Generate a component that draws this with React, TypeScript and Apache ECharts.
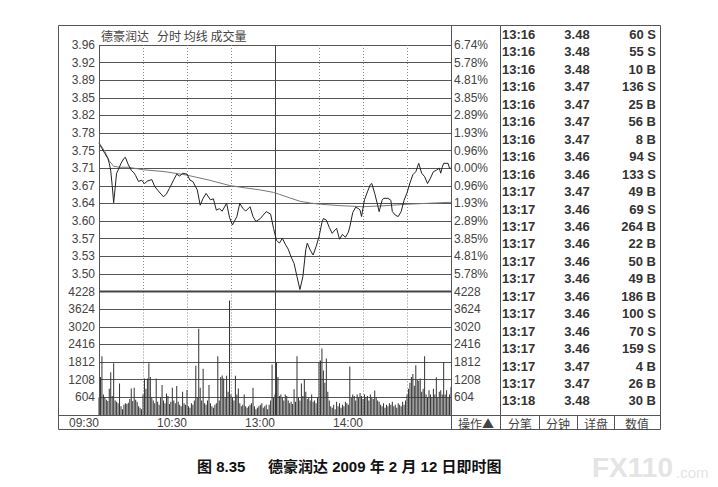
import React, { useEffect, useRef } from 'react';
import * as echarts from 'echarts';

// ---- axis tick labels ----
const PRICE_MIN = 3.46;
const PRICE_MAX = 3.96;
const PRICE_STEP = 0.25 / 7;
const priceTickLabels = ['', '3.50', '3.53', '3.57', '3.60', '3.64', '3.67', '3.71', '3.75', '3.78', '3.82', '3.85', '3.89', '3.92', '3.96'];
const pctTickLabels = ['', '5.78%', '4.81%', '3.85%', '2.89%', '1.93%', '0.96%', '0.00%', '0.96%', '1.93%', '2.89%', '3.85%', '4.81%', '5.78%', '6.74%'];
const VOL_MAX = 4228;
const VOL_STEP = 604;
const volTickLabels = ['', '604', '1208', '1812', '2416', '3020', '3624', '4228'];
const timeTickMinutes = [0, 60, 120, 180];
const timeTickLabels = ['09:30', '10:30', '13:00', '14:00'];

// ---- price line (minute index, price) ----
const priceMinutes = [0, 1, 2, 3, 4, 5, 6, 7, 8, 9, 10, 11, 12, 13, 15, 17, 18, 20, 22, 24, 25, 27, 29, 31, 33, 36, 38, 41, 44, 46, 48, 51, 53, 55, 57, 60, 62, 64, 67, 69, 71, 73, 76, 78, 80, 82, 84, 87, 89, 91, 94, 96, 98, 100, 103, 105, 107, 110, 112, 114, 117, 119, 121, 123, 125, 127, 129, 131, 133, 135, 137, 139, 141, 142, 144, 146, 148, 150, 152, 153, 155, 157, 159, 161, 162, 164, 166, 168, 170, 171, 173, 175, 177, 178, 179, 181, 183, 185, 186, 188, 190, 191, 193, 194, 197, 199, 200, 202, 204, 206, 208, 210, 212, 214, 216, 218, 220, 222, 224, 226, 228, 230, 232, 233, 234, 235, 238, 239, 240];
const priceValues = [3.76, 3.755, 3.75, 3.745, 3.74, 3.735, 3.73, 3.72, 3.705, 3.675, 3.64, 3.67, 3.70, 3.706, 3.72, 3.73, 3.732, 3.717, 3.706, 3.70, 3.695, 3.683, 3.686, 3.679, 3.684, 3.687, 3.673, 3.662, 3.652, 3.658, 3.669, 3.687, 3.698, 3.694, 3.70, 3.698, 3.686, 3.683, 3.666, 3.635, 3.649, 3.659, 3.646, 3.648, 3.625, 3.628, 3.623, 3.639, 3.61, 3.595, 3.612, 3.639, 3.629, 3.623, 3.632, 3.612, 3.602, 3.608, 3.615, 3.622, 3.617, 3.588, 3.564, 3.558, 3.568, 3.556, 3.546, 3.53, 3.517, 3.49, 3.464, 3.49, 3.545, 3.558, 3.544, 3.534, 3.551, 3.571, 3.60, 3.608, 3.605, 3.59, 3.578, 3.585, 3.588, 3.566, 3.576, 3.57, 3.58, 3.591, 3.62, 3.631, 3.628, 3.625, 3.612, 3.646, 3.662, 3.677, 3.679, 3.659, 3.635, 3.622, 3.645, 3.649, 3.649, 3.645, 3.622, 3.615, 3.612, 3.622, 3.645, 3.66, 3.68, 3.697, 3.703, 3.72, 3.70, 3.693, 3.679, 3.69, 3.703, 3.706, 3.71, 3.70, 3.712, 3.72, 3.72, 3.71, 3.71];

// ---- average line ----
const avgMinutes = [0, 4, 7, 10, 14, 20, 30, 45, 60, 75, 89, 100, 110, 119, 123, 130, 137, 145, 151, 165, 180, 195, 210, 225, 240];
const avgValues = [3.762, 3.744, 3.725, 3.714, 3.712, 3.712, 3.707, 3.703, 3.696, 3.686, 3.675, 3.670, 3.666, 3.661, 3.657, 3.650, 3.643, 3.639, 3.637, 3.634, 3.632, 3.634, 3.637, 3.639, 3.641];

// ---- volume per minute (241 values) ----
const volumeValues = [
  600, 1300, 2010, 700, 620, 520, 480, 900, 1460, 650,
  1770, 500, 450, 400, 1080, 300, 200, 350, 400, 380,
  420, 550, 910, 480, 935, 520, 450, 300, 250, 200,
  700, 1250, 900, 1250, 1770, 1300, 600, 500, 400, 1250,
  450, 350, 600, 1030, 500, 400, 740, 650, 380, 450,
  935, 500, 400, 990, 450, 350, 300, 800, 400, 350,
  855, 300, 250, 400, 350, 500, 1690, 600, 2950, 935,
  500, 1580, 400, 350, 500, 1030, 400, 300, 250, 350,
  400, 2010, 500, 1300, 1350, 1250, 600, 1345, 800, 3920,
  700, 600, 500, 1345, 700, 910, 400, 300, 350, 700,
  300, 250, 300, 350, 400, 935, 300, 200, 250, 300,
  350, 400, 250, 300, 350, 200, 350, 500, 1730, 600,
  700, 1810, 1300, 650, 700, 600, 500, 700, 650, 500,
  400, 450, 380, 880, 450, 2010, 600, 500, 1076, 650,
  1230, 800, 550, 600, 500, 700, 450, 500, 400, 600,
  1810, 1870, 2280, 1520, 1100, 1930, 800, 500, 300, 250,
  350, 200, 450, 300, 400, 250, 350, 300, 450, 400,
  350, 1660, 600, 700, 650, 500, 700, 600, 750, 650,
  550, 700, 600, 650, 500, 700, 600, 550, 840, 600,
  500, 450, 350, 300, 400, 250, 350, 300, 400, 350,
  450, 300, 350, 250, 400, 350, 300, 450, 350, 500,
  700, 900, 1100, 1300, 1400, 1000, 1700, 1200, 1170, 1250,
  800, 900, 2010, 700, 600, 850, 700, 600, 900, 700,
  1290, 600, 800, 850, 700, 1810, 700, 850, 600, 700,
  960,
];

// ---- tick-by-tick trades panel ----
const tradeTimes = ['13:16', '13:16', '13:16', '13:16', '13:16', '13:16', '13:16', '13:16', '13:16', '13:17', '13:17', '13:17', '13:17', '13:17', '13:17', '13:17', '13:17', '13:17', '13:17', '13:17', '13:17', '13:18'];
const tradePrices = ['3.48', '3.48', '3.48', '3.47', '3.47', '3.47', '3.47', '3.46', '3.46', '3.47', '3.46', '3.46', '3.46', '3.46', '3.46', '3.46', '3.46', '3.46', '3.46', '3.47', '3.47', '3.48'];
const tradeVolumes = [60, 55, 10, 136, 25, 56, 8, 94, 133, 49, 69, 264, 22, 50, 49, 186, 100, 70, 159, 4, 26, 30];
const tradeSides = ['S', 'S', 'B', 'S', 'B', 'B', 'B', 'S', 'S', 'B', 'S', 'B', 'B', 'B', 'B', 'B', 'S', 'S', 'S', 'B', 'B', 'B'];
const buttonLabels = ['分笔', '分钟', '详盘', '数值'];

const FONT = '"Liberation Sans", Arial, "Noto Sans CJK SC", sans-serif';
const CJK = '"Noto Sans CJK SC", "Liberation Sans", sans-serif';

export default function App() {
  const ref = useRef<HTMLDivElement>(null);
  useEffect(() => {
    document.body.style.margin = '0';
    if (!ref.current) return;
    const chart = echarts.init(ref.current, null, { renderer: 'svg' });

    const priceIdx = (v: number) => Math.round((v - PRICE_MIN) / PRICE_STEP);
    const frame = '#555';
    const lineEl = (x1: number, y1: number, x2: number, y2: number, w = 1, color = frame) => ({
      type: 'line', silent: true, z: 100,
      shape: { x1, y1, x2, y2 },
      style: { stroke: color, lineWidth: w },
    });

    const graphics: any[] = [
      { type: 'rect', silent: true, z: 100, shape: { x: 58.5, y: 25.5, width: 602, height: 404 }, style: { fill: 'none', stroke: frame, lineWidth: 1 } },
      lineEl(99.5, 45, 99.5, 415),
      lineEl(451.5, 25, 451.5, 430),
      lineEl(500.5, 25, 500.5, 430),
      lineEl(58, 415.5, 661, 415.5),
      lineEl(99, 291.5, 451, 291.5, 2, '#444'),
      lineEl(539.5, 415, 539.5, 430),
      lineEl(577.5, 415, 577.5, 430),
      lineEl(614.5, 415, 614.5, 430),
      { type: 'text', silent: true, z: 101, x: 101, y: 35, style: { text: '德豪润达   分时 均线 成交量', font: `12px ${CJK}`, fill: '#444', verticalAlign: 'middle' } },
      { type: 'text', silent: true, z: 101, x: 476, y: 423, style: { text: '操作▲', font: `12px ${CJK}`, fill: '#444', align: 'center', verticalAlign: 'middle' } },
      { type: 'text', silent: true, z: 101, x: 197, y: 466, style: { text: '图 8.35', font: `bold 15px ${FONT}`, fill: '#111', verticalAlign: 'middle' } },
      { type: 'text', silent: true, z: 101, x: 268, y: 466, style: { text: '德豪润达 2009 年 2 月 12 日即时图', font: `bold 15px ${FONT}`, fill: '#111', verticalAlign: 'middle' } },
      { type: 'text', silent: true, z: 101, x: 592, y: 467, style: { text: 'FX110', font: `bold 28px ${FONT}`, fill: '#e4e4e4', verticalAlign: 'middle' } },
      { type: 'text', silent: true, z: 101, x: 676, y: 472, style: { text: '.com', font: `15px ${FONT}`, fill: '#e4e4e4', verticalAlign: 'middle' } },
    ];
    const btnCenters = [520, 558, 596, 637];
    buttonLabels.forEach((b, k) => {
      graphics.push({ type: 'text', silent: true, z: 101, x: btnCenters[k], y: 423, style: { text: b, font: `12px ${CJK}`, fill: '#444', align: 'center', verticalAlign: 'middle' } });
    });
    tradeTimes.forEach((t, k) => {
      const y = 34.5 + k * 17.45;
      const font = `bold 13px ${FONT}`;
      graphics.push({ type: 'text', silent: true, z: 101, x: 502, y, style: { text: t, font, fill: '#333', verticalAlign: 'middle' } });
      graphics.push({ type: 'text', silent: true, z: 101, x: 577, y, style: { text: tradePrices[k], font, fill: '#333', align: 'center', verticalAlign: 'middle' } });
      graphics.push({ type: 'text', silent: true, z: 101, x: 656, y, style: { text: `${tradeVolumes[k]} ${tradeSides[k]}`, font, fill: '#333', align: 'right', verticalAlign: 'middle' } });
    });

    const hidden = { axisLine: { show: false }, axisTick: { show: false } };
    const dotted = { show: true, lineStyle: { color: '#888', type: [1, 2], width: 1 } };
    const solid = { show: true, lineStyle: { color: '#444', type: 'solid', width: 1 } };
    const hSplit = { show: true, lineStyle: { color: '#555', width: 1 } };
    const labelStyle = { color: '#444', fontSize: 12, fontFamily: FONT };

    chart.setOption({
      animation: false,
      backgroundColor: '#fff',
      grid: [
        { left: 99, top: 45, width: 352, height: 246.5 },
        { left: 99, top: 291.5, width: 352, height: 123.5 },
      ],
      xAxis: [
        { type: 'value', gridIndex: 0, min: 0, max: 240, interval: 30, ...hidden, axisLabel: { show: false }, splitLine: dotted },
        { type: 'value', gridIndex: 0, min: 0, max: 240, interval: 120, position: 'top', ...hidden, axisLabel: { show: false }, splitLine: solid },
        {
          type: 'value', gridIndex: 1, min: 0, max: 240, interval: 30, ...hidden, splitLine: dotted,
          axisLabel: {
            show: true, ...labelStyle, align: 'right', margin: 2, showMaxLabel: false,
            formatter: (v: number) => { const i = timeTickMinutes.indexOf(v); return i >= 0 ? timeTickLabels[i] : ''; },
          },
        },
        { type: 'value', gridIndex: 1, min: 0, max: 240, interval: 120, position: 'top', ...hidden, axisLabel: { show: false }, splitLine: solid },
      ],
      yAxis: [
        {
          type: 'value', gridIndex: 0, min: PRICE_MIN, max: PRICE_MAX, interval: PRICE_STEP, ...hidden, splitLine: hSplit,
          axisLabel: { ...labelStyle, margin: 4, formatter: (v: number) => priceTickLabels[priceIdx(v)] ?? '' },
        },
        {
          type: 'value', gridIndex: 0, position: 'right', min: PRICE_MIN, max: PRICE_MAX, interval: PRICE_STEP, ...hidden, splitLine: { show: false },
          axisLabel: { ...labelStyle, margin: 3, formatter: (v: number) => pctTickLabels[priceIdx(v)] ?? '' },
        },
        {
          type: 'value', gridIndex: 1, min: 0, max: VOL_MAX, interval: VOL_STEP, ...hidden, splitLine: hSplit,
          axisLabel: { ...labelStyle, margin: 4, formatter: (v: number) => volTickLabels[Math.round(v / VOL_STEP)] ?? '' },
        },
        {
          type: 'value', gridIndex: 1, position: 'right', min: 0, max: VOL_MAX, interval: VOL_STEP, ...hidden, splitLine: { show: false },
          axisLabel: { ...labelStyle, margin: 3, formatter: (v: number) => volTickLabels[Math.round(v / VOL_STEP)] ?? '' },
        },
      ],
      series: [
        {
          type: 'line', xAxisIndex: 0, yAxisIndex: 0, showSymbol: false, silent: true,
          data: avgMinutes.map((m, i) => [m, avgValues[i]]),
          lineStyle: { color: '#777', width: 1 }, z: 3,
        },
        {
          type: 'line', xAxisIndex: 0, yAxisIndex: 0, showSymbol: false, silent: true,
          data: priceMinutes.map((m, i) => [m, priceValues[i]]),
          lineStyle: { color: '#222', width: 1 }, z: 4,
        },
        {
          type: 'bar', xAxisIndex: 2, yAxisIndex: 2, barWidth: 1, silent: true,
          data: volumeValues.map((v, i) => [i, v]),
          itemStyle: { color: '#333' },
        },
      ],
      graphic: graphics,
    });
    return () => chart.dispose();
  }, []);
  return <div ref={ref} style={{ width: 718, height: 487, background: '#fff' }} />;
}
